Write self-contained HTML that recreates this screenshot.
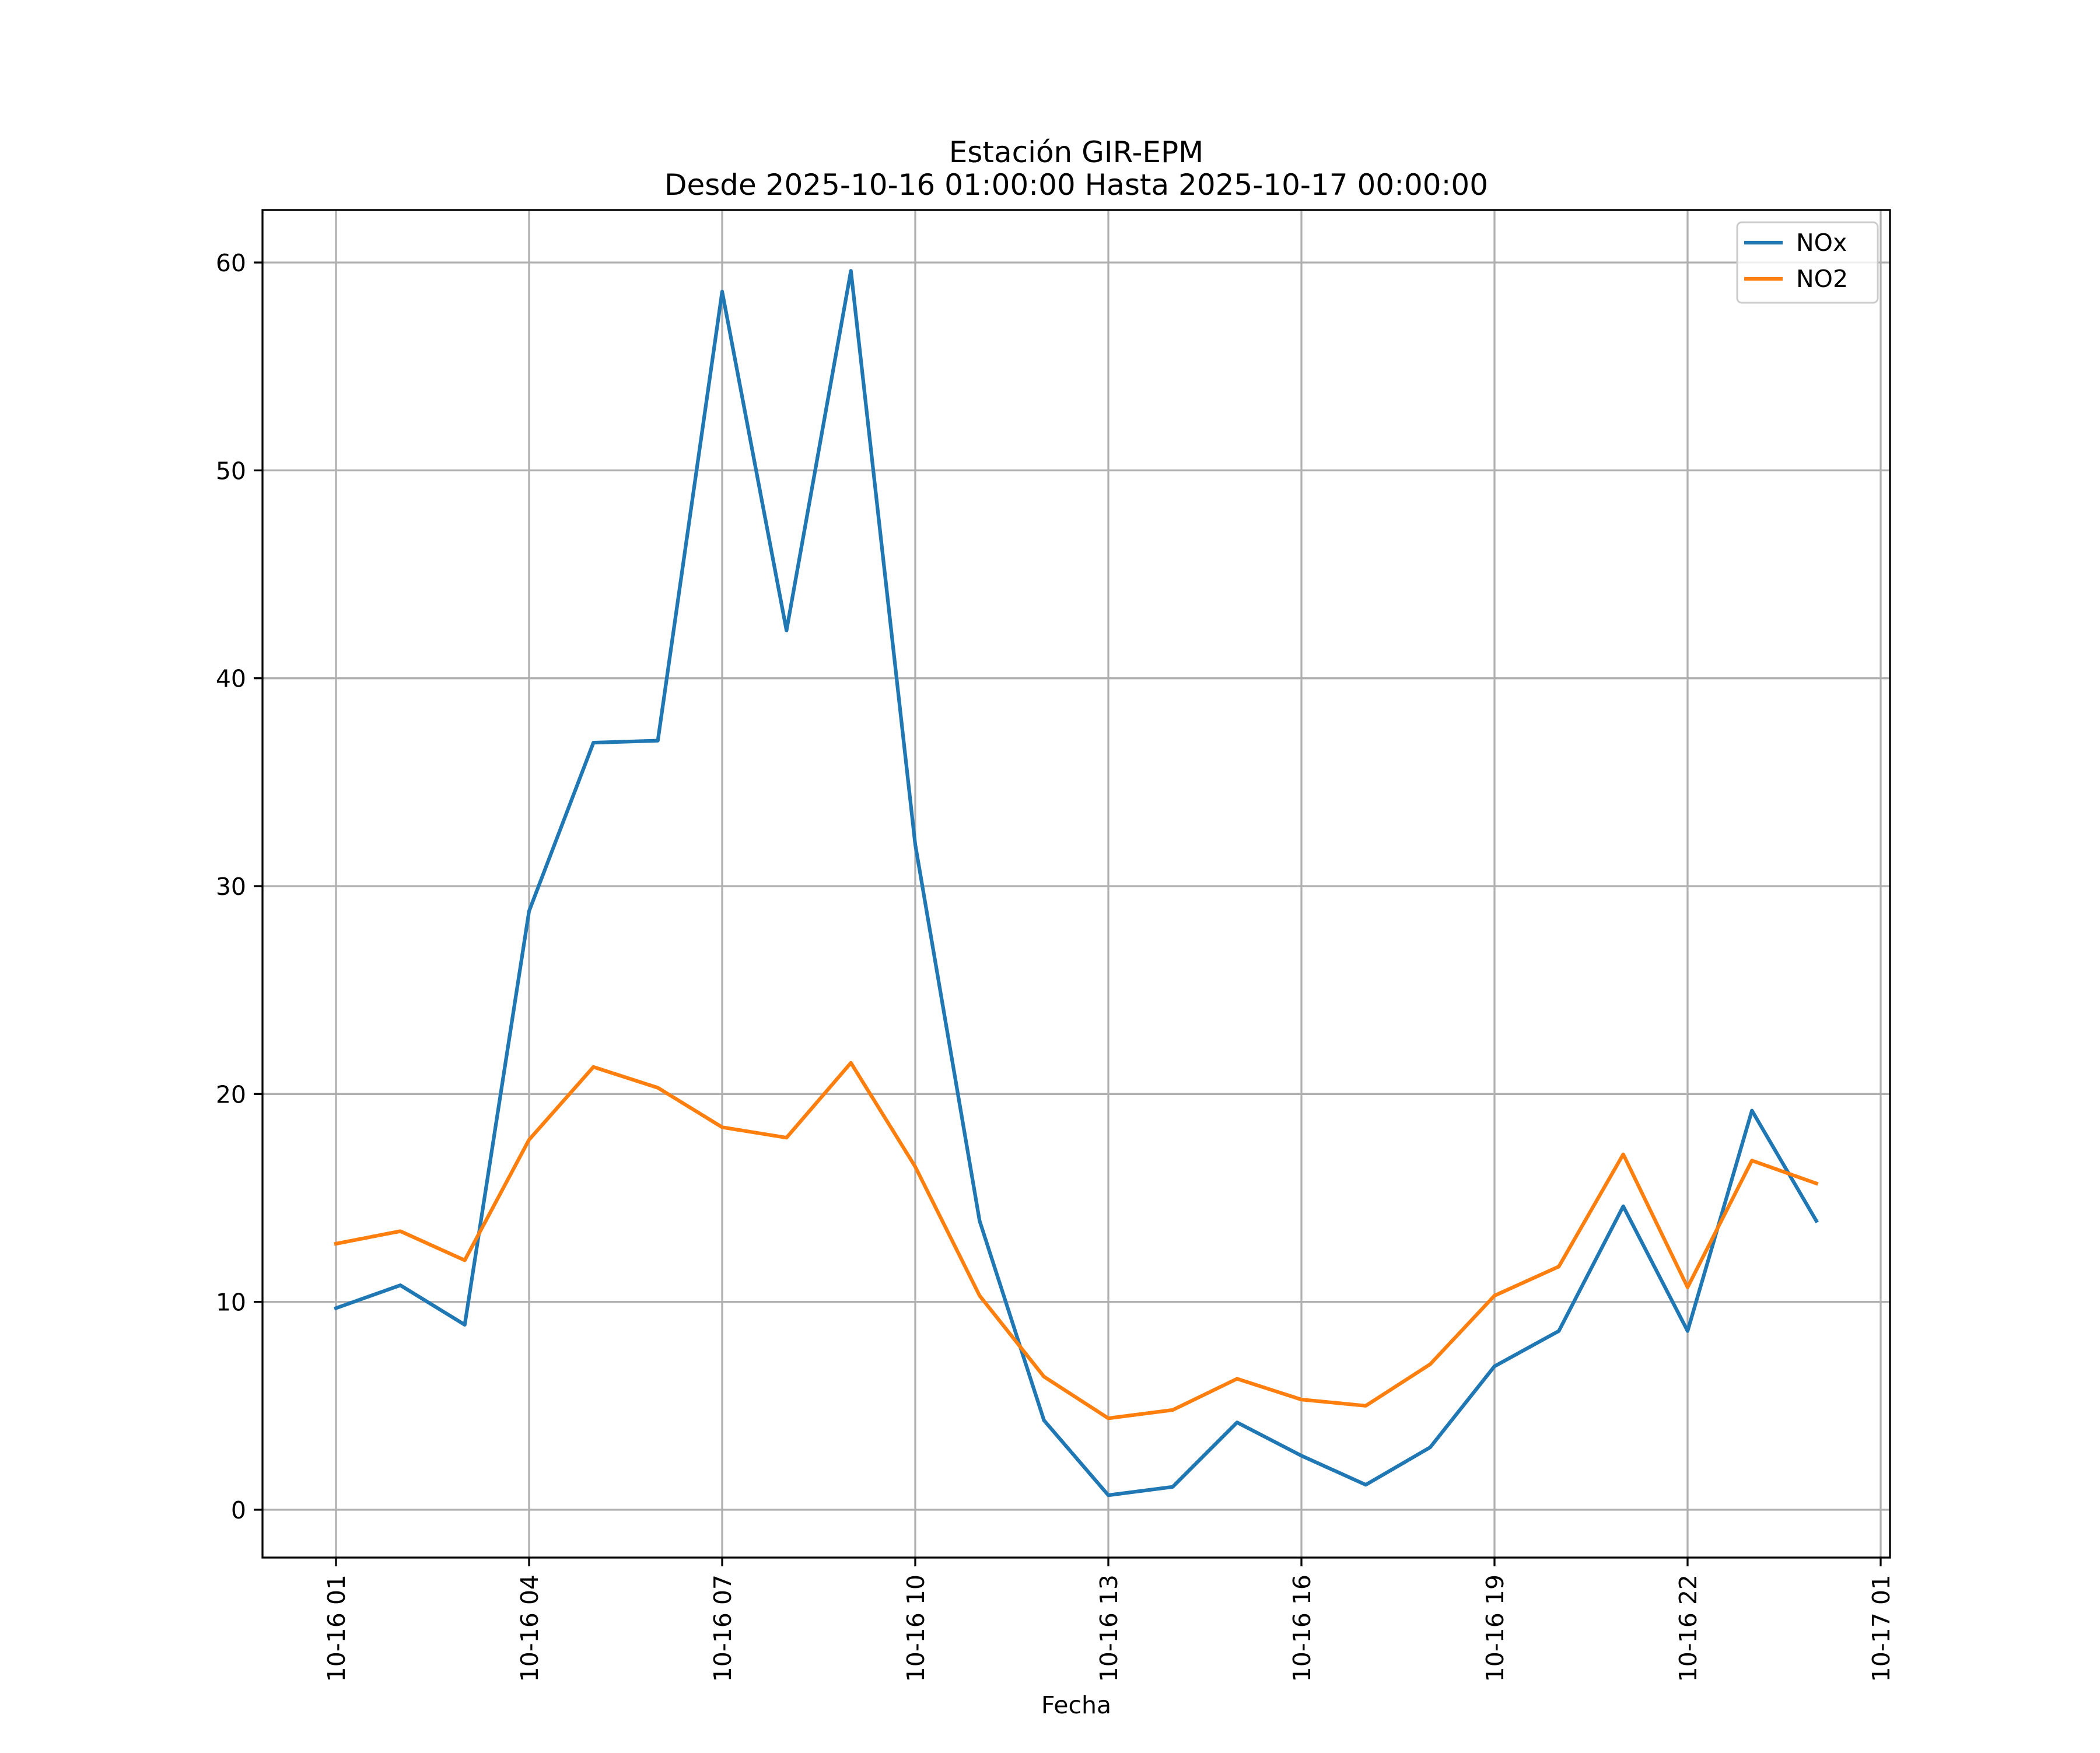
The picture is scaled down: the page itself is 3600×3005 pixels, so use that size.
<!DOCTYPE html>
<html><head><meta charset="utf-8"><style>
html,body{margin:0;padding:0;background:#fff;}
svg text{font-family:"DejaVu Sans","Liberation Sans",sans-serif;fill:#000;}
</style></head><body>
<svg id="chart" width="3600" height="3000" viewBox="0 0 3600 3000" xmlns="http://www.w3.org/2000/svg">
<rect width="3600" height="3000" fill="#fff"/>
<text x="1845" y="278" font-size="50" text-anchor="middle">Estación GIR-EPM</text>
<text x="1845" y="334" font-size="50" text-anchor="middle">Desde 2025-10-16 01:00:00 Hasta 2025-10-17 00:00:00</text>
<g id="grid"></g>
<g id="series"></g>
<rect x="450" y="360" width="2790" height="2310" fill="none" stroke="#000" stroke-width="3.3"/>
<g id="ticks"></g>
<text x="1845" y="2937" font-size="41" text-anchor="middle">Fecha</text>
<g>
<rect x="2978" y="381" width="241" height="138" rx="8" fill="#fff" fill-opacity="0.8" stroke="#ccc" stroke-width="3"/>
<line x1="2990" y1="416" x2="3056" y2="416" stroke="#1f77b4" stroke-width="6.25"/>
<text x="3079" y="430" font-size="41">NOx</text>
<line x1="2990" y1="478" x2="3056" y2="478" stroke="#ff7f0e" stroke-width="6.25"/>
<text x="3079" y="492" font-size="41">NO2</text>
</g>
</svg>
<script>
const hours = [0,1,2,3,4,5,6,7,8,9,10,11,12,13,14,15,16,17,18,19,20,21,22,23];
const noxValues = [9.7,10.8,8.9,28.8,36.9,37.0,58.6,42.3,59.6,32.0,13.9,4.3,0.7,1.1,4.2,2.6,1.2,3.0,6.9,8.6,14.6,8.6,19.2,13.9];
const no2Values = [12.8,13.4,12.0,17.8,21.3,20.3,18.4,17.9,21.5,16.5,10.3,6.4,4.4,4.8,6.3,5.3,5.0,7.0,10.3,11.7,17.1,10.7,16.8,15.7];
const yTicks = [0,10,20,30,40,50,60];
const xTickHours = [0,3,6,9,12,15,18,21,24];
const xTickLabels = ["10-16 01","10-16 04","10-16 07","10-16 10","10-16 13","10-16 16","10-16 19","10-16 22","10-17 01"];

const NS = "http://www.w3.org/2000/svg";
function xs(h){ return 576 + h*(3224-576)/24; }
function ys(v){ return 2588 - v*(2588-450)/60; }
function mk(tag, attrs, parent){
  const e = document.createElementNS(NS, tag);
  for (const k in attrs) e.setAttribute(k, attrs[k]);
  parent.appendChild(e);
  return e;
}
const grid = document.getElementById('grid');
const ticks = document.getElementById('ticks');
const series = document.getElementById('series');

yTicks.forEach((v)=>{
  const y = ys(v);
  const g = mk('line',{x1:450,x2:3240,y1:y,y2:y,stroke:'#b0b0b0','stroke-width':3.3},grid);
  
  
  const t = mk('line',{x1:435,x2:450,y1:y,y2:y,stroke:'#000','stroke-width':3.3},ticks);
  
  
  const l = mk('text',{x:422,y:y+15,'font-size':41,'text-anchor':'end'},ticks);
  l.textContent = v;
  
  
});
xTickHours.forEach((h,i)=>{
  const x = xs(h);
  const g = mk('line',{x1:x,x2:x,y1:360,y2:2670,stroke:'#b0b0b0','stroke-width':3.3},grid);
  
  
  const t = mk('line',{x1:x,x2:x,y1:2670,y2:2685,stroke:'#000','stroke-width':3.3},ticks);
  
  
  const l = mk('text',{x:0,y:0,'font-size':41,'text-anchor':'end',transform:`translate(${x+15},2699) rotate(-90)`},ticks);
  l.textContent = xTickLabels[i];
  
  
});
function drawLine(vals, color, name){
  const pts = vals.map((v,i)=>xs(hours[i]).toFixed(1)+','+ys(v).toFixed(1)).join(' ');
  const p = mk('polyline',{points:pts,fill:'none',stroke:color,'stroke-width':6.25,'stroke-linejoin':'round','stroke-linecap':'square'},series);
  
  
}
drawLine(noxValues,'#1f77b4','nox-line');
drawLine(no2Values,'#ff7f0e','no2-line');
</script>
</body></html>
